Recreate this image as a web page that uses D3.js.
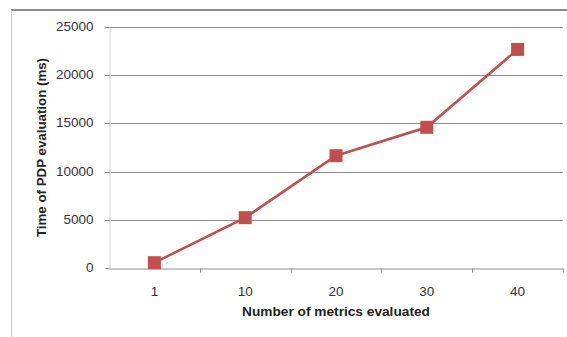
<!DOCTYPE html>
<html><head><meta charset="utf-8">
<script src="https://cdn.jsdelivr.net/npm/d3@7"></script>
<style>body{margin:0;background:#fff}svg{display:block}</style>
</head><body>
<script>
const categories = ["1","10","20","30","40"];
const values = [520, 5200, 11650, 14600, 22700];
const yTicks = [0,5000,10000,15000,20000,25000];
const xTitle = "Number of metrics evaluated";
const yTitle = "Time of PDP evaluation (ms)";

const W=567,H=337;
const svg=d3.select("body").append("svg").attr("width",W).attr("height",H);
// frame
svg.append("line").attr("x1",11).attr("x2",W).attr("y1",10).attr("y2",10).attr("stroke","#8a8a8a").attr("stroke-width",2);
svg.append("line").attr("x1",11.5).attr("x2",11.5).attr("y1",10).attr("y2",H).attr("stroke","#c8c8c8").attr("stroke-width",1);

const x=d3.scaleBand().domain(categories).range([109,563]);
const y=d3.scaleLinear().domain([0,25000]).range([267.7,27.3]);
const font="'Liberation Sans', Arial, sans-serif";

// gridlines
svg.append("g").selectAll("line").data(yTicks.filter(d=>d>0)).join("line")
 .attr("x1",105).attr("x2",563).attr("y1",d=>Math.round(y(d))+0.5).attr("y2",d=>Math.round(y(d))+0.5)
 .attr("stroke","#8c8c8c").attr("stroke-width",1);
// y axis
const ya=svg.append("g").attr("transform","translate(109.5,0)").call(d3.axisLeft(y).tickValues(yTicks).tickSize(4).tickPadding(12).tickFormat(d3.format("d")));
ya.select(".domain").attr("stroke","#d0d0d0");
ya.selectAll(".tick line").attr("stroke","#8c8c8c").attr("transform","translate(0,0.5)");
ya.selectAll("text").attr("font-family",font).attr("font-size",13.5).attr("fill","#333");
ya.selectAll(".tick").attr("transform",d=>`translate(0,${Math.round(y(d))})`);
// x axis
const xa=svg.append("g").attr("transform",`translate(0,${Math.round(y(0))+0.5})`).call(d3.axisBottom(x).tickSize(0).tickPadding(18));
xa.select(".domain").attr("stroke","#8c8c8c");
xa.selectAll("text").attr("font-family",font).attr("font-size",13.5).attr("fill","#333");
const bounds=categories.map(c=>x(c)).concat([x.range()[1]]);
xa.selectAll(".bt").data(bounds.slice(1)).join("line").attr("class","bt")
 .attr("x1",d=>Math.round(d)+0.5).attr("x2",d=>Math.round(d)+0.5).attr("y1",0).attr("y2",4).attr("stroke","#8c8c8c");

// line
const pts=categories.map((c,i)=>[x(c)+x.bandwidth()/2,y(values[i])]);
svg.append("path").attr("d",d3.line()(pts)).attr("fill","none").attr("stroke","#c0504d").attr("stroke-width",2.6);
svg.append("g").selectAll("rect").data(pts).join("rect")
 .attr("x",d=>d[0]-6.5).attr("y",d=>d[1]-6.5).attr("width",13).attr("height",13).attr("fill","#c0504d");

// titles
svg.append("text").attr("x",336).attr("y",316).attr("text-anchor","middle").attr("font-family",font).attr("font-weight","bold").attr("font-size",13.7).attr("fill","#222").text(xTitle);
svg.append("text").attr("transform","translate(46,147.5) rotate(-90)").attr("text-anchor","middle").attr("font-family",font).attr("font-weight","bold").attr("font-size",13.3).attr("fill","#222").text(yTitle);
</script>
</body></html>
